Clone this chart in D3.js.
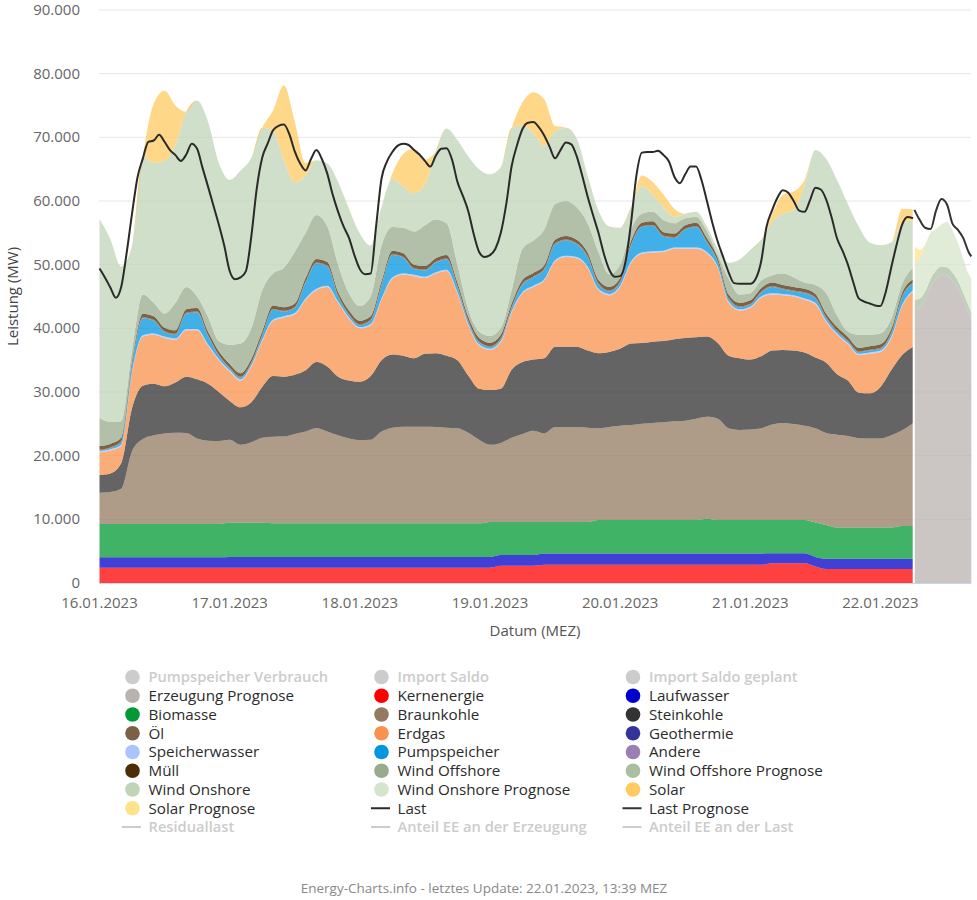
<!DOCTYPE html>
<html><head><meta charset="utf-8">
<script src="https://cdn.jsdelivr.net/npm/d3@7"></script>
<style>
body{margin:0;background:#fff;}
svg{display:block;font-family:"Open Sans",sans-serif;}
</style></head><body>
<svg id="chart" width="977" height="900"></svg>
<script>
// ---- categories: hours since 16.01.2023 00:00 ----
const hours = d3.range(0, 151, 2);      // generation series, 2-hour steps
const lastHours = d3.range(0, 151, 1);  // load series, hourly
const dayLabels = ["16.01.2023","17.01.2023","18.01.2023","19.01.2023","20.01.2023","21.01.2023","22.01.2023"];
const yTicks = [0,10000,20000,30000,40000,50000,60000,70000,80000,90000];

// ---- series values (MW) ----
const kernenergie = [
2400,2400,2400,2400,2400,2400,2400,2400,2400,2400,2400,2400,
2400,2400,2400,2400,2400,2400,2400,2400,2400,2400,2400,2400,
2400,2400,2400,2400,2400,2400,2400,2400,2400,2400,2400,2400,
2400,2700,2700,2700,2700,2850,2850,2850,2850,2850,2850,2850,
2850,2850,2850,2850,2850,2850,2850,2850,2850,2850,2850,2850,
2850,2850,3100,3100,3100,3100,2600,2200,2200,2200,2200,2200,
2200,2200,2200,2200];
const laufwasser = [
1630,1630,1630,1630,1630,1630,1630,1630,1630,1630,1630,1630,
1700,1700,1700,1700,1700,1700,1700,1700,1700,1700,1700,1700,
1700,1700,1700,1700,1700,1700,1700,1700,1700,1700,1700,1700,
1700,1700,1700,1700,1700,1800,1800,1800,1800,1800,1800,1800,
1800,1800,1800,1800,1800,1800,1800,1800,1800,1800,1800,1800,
1800,1800,1560,1560,1560,1560,1500,1600,1600,1600,1600,1600,
1600,1600,1600,1600];
const biomasse = [
5240,5240,5240,5240,5240,5240,5240,5240,5240,5240,5240,5240,
5350,5350,5350,5350,5270,5270,5270,5270,5270,5270,5270,5270,
5270,5270,5270,5270,5270,5270,5270,5270,5270,5270,5270,5270,
5500,5200,5200,5200,5200,4950,4950,4950,4950,4950,5250,5250,
5250,5250,5250,5250,5250,5250,5250,5250,5450,5250,5250,5250,
5250,5250,5240,5240,5240,5240,5400,5300,4900,4900,4900,4900,
4900,4900,5150,5150];
const braunkohle = [
4920,5030,5530,11430,13330,13930,14230,14330,14280,13430,13080,13030,
13050,12250,12650,13350,13610,13630,14030,14430,14930,14430,13830,13330,
13080,13130,14430,15030,15180,15180,15180,15130,15030,14930,14230,13130,
12100,12400,13200,13800,14300,13900,14900,14900,14900,14800,14400,14600,
14800,14900,15100,15250,15350,15500,15600,15900,16000,15900,14400,14130,
14200,14400,15000,15250,15060,14800,14800,14450,14600,14400,14050,14000,
14000,14500,15050,16150];
const steinkohle = [
2770,2900,4000,6800,8400,8100,7400,7900,8850,9300,8950,7700,
6100,5900,6300,8000,9520,9400,9300,9600,10400,10200,9200,9100,
9150,10000,11200,11500,11150,10750,11450,11600,11300,10700,9000,8000,
8600,8500,10700,11300,11200,11800,12600,12600,12600,12100,11800,11800,
12100,12800,12700,12750,12750,12900,13000,12800,12600,11900,11400,11270,
11000,11300,11600,11450,11540,11500,11100,11050,9500,8700,7150,7100,
8100,10250,11810,12010];
const erdgas = [
3540,3600,2700,5500,7700,7700,7600,6700,7300,7700,6000,5000,
4600,4200,5600,7200,8700,9300,9500,11100,11300,12500,11600,9700,
8400,8000,9500,11900,12700,12900,11900,12500,13300,10500,7900,6800,
6300,7300,9000,10800,11400,12200,13400,14100,13900,13000,9900,8900,
9700,12700,14000,14000,14000,14200,14000,13900,13100,11800,8300,7500,
8100,9200,8800,8600,8500,8300,8400,6400,6200,5700,5900,6200,
5500,5050,7690,8690];
const speicherwasser = [
200,200,200,200,200,200,200,200,200,200,200,200,
200,200,200,200,200,200,200,200,200,200,200,200,
200,200,200,200,200,200,200,200,200,200,200,200,
200,200,200,200,200,200,200,200,200,200,200,200,
200,200,200,200,200,200,200,200,200,200,200,200,
200,200,200,200,200,200,200,200,200,200,200,200,
200,200,200,200];
const pumpspeicher = [
100,150,400,1000,2700,2000,700,600,2400,2600,1300,500,
300,250,300,600,1500,700,800,2500,4000,3000,800,400,
300,500,2000,3500,2500,900,1000,1500,1600,800,400,300,
250,300,500,1200,1300,1500,2500,2400,2000,1500,700,400,
500,2500,4000,4000,2200,1500,2800,3200,1500,700,400,300,
300,600,1000,700,600,800,700,400,300,250,250,300,
300,500,1200,1000];
const oel = [
150,150,150,150,150,150,150,150,150,150,150,150,
150,150,150,150,150,150,150,150,150,150,150,150,
150,150,150,150,150,150,150,150,150,150,150,150,
150,150,150,150,150,150,150,150,150,150,150,150,
150,150,150,150,150,150,150,150,150,150,150,150,
150,150,150,150,150,150,150,150,150,150,150,150,
150,150,150,150];
const muell = [
550,550,550,550,550,550,550,550,550,550,550,550,
550,550,550,550,550,550,550,550,550,550,550,550,
550,550,550,550,550,550,550,550,550,550,550,550,
550,550,550,550,550,550,550,550,550,550,550,550,
550,550,550,550,550,550,550,550,550,550,550,550,
550,550,550,550,550,550,550,550,550,550,550,550,
550,550,550,550];
const windOffshore = [
4400,3450,2600,1600,3000,2100,2200,4300,3500,1800,2300,1600,
3000,4650,4800,6500,5000,6200,8100,7100,6900,5600,4300,2700,
2300,3100,5600,3700,4000,5200,6400,6100,5000,2800,1200,1000,
1050,1000,2100,4900,5100,5600,5600,5500,5100,4600,4400,2000,
2100,1800,1400,1500,1900,1600,1100,900,1100,400,2500,1300,
1100,1200,1100,1800,1500,1000,1400,3200,1800,850,2050,1800,
1700,1600,1400,1800];
const windOnshore = [
31300,28700,24300,16500,21700,22000,24000,24800,27500,30800,30700,28000,
25900,27200,26800,25500,22400,16900,10900,9000,8600,9900,13000,13300,
11400,8000,6000,7600,6500,6000,6300,10700,14900,19600,24000,25500,
25400,25300,25500,19300,16800,13100,11400,11500,10800,7500,6500,7500,
5800,3500,4300,2700,2000,1000,700,800,700,1000,2500,5500,
6800,6400,8400,9400,10600,15200,21200,21100,21300,20000,17000,14500,
13900,12000,9500,7500];
const solar = [
0,0,0,0,0,9300,11000,6200,0,0,0,0,
0,0,0,0,3200,11800,9600,2000,0,0,0,0,
0,0,0,800,5100,7000,4000,0,0,0,0,0,
0,0,0,3700,6500,7400,900,0,0,0,0,0,
0,0,1700,2000,2000,1300,0,0,0,0,0,0,
0,0,1200,3000,2900,900,0,0,0,0,0,0,
0,0,2300,1700];
const last = [
49400,48000,46400,44800,46500,51800,58000,63700,66700,69300,69500,70400,
69300,68000,67200,66300,67300,69000,68200,65200,62300,59300,56300,53000,
49000,47700,48000,49000,54500,62000,66800,69000,71100,71800,72000,70500,
67800,65900,64800,66600,68000,66600,64300,61000,58300,56000,54200,51500,
49300,48500,48600,56000,63500,66200,67700,68700,69000,68800,68000,67300,
66300,65400,67100,68200,68300,66500,63000,60800,58400,54800,52000,51200,
51500,52500,55000,59500,65500,68800,71300,72300,72400,71600,70300,68500,
66700,68000,69200,68900,67000,64000,60700,57800,55000,51700,49200,48100,
48200,50500,56500,64000,67600,67700,67700,67900,67200,66200,63800,62800,
64200,65400,65400,63300,60000,56600,53600,51200,48800,47100,47000,47000,
47000,47800,50500,56000,58500,60500,61700,61300,60000,58500,58300,60100,
62100,61800,60200,57400,54100,52200,50000,47200,44700,44200,43900,43600,
43500,45800,49600,53200,56300,57500,57300];

// ---- forecast (hours since start) ----
const forecastHours = [150.25,151.25,152.25,153.25,154.25,155.25,156.25,157.25,158.25,159.25,160.25,160.75];
const erzeugungPrognose = [43000,43300,44500,46500,47800,48400,48300,47500,46300,44500,42500,41500];
const windOffshorePrognose = [1500,1400,1300,1300,1300,1300,1300,1300,1200,1100,1000,1000];
const windOnshorePrognose = [5700,6300,7200,7200,6500,6600,7100,6700,6000,5400,5000,5400];
const solarPrognose = [2800,1300,200,0,0,0,0,0,0,0,0,0];
const lastPrognose = [58600,57000,55800,55600,58500,60300,59500,56500,55500,54200,52000,51300];

// ---- styling ----
const colors = {
  kernenergie:"#ff0000", laufwasser:"#0000c8", biomasse:"#009933", braunkohle:"#937b61",
  steinkohle:"#303030", erdgas:"#f8924c", speicherwasser:"#a9c4ff", pumpspeicher:"#0395e0",
  oel:"#7b5f47", muell:"#4d2d09", windOffshore:"#98ab8d", windOnshore:"#c0d4b8", solar:"#ffca62",
  erzeugungPrognose:"#b9b3af", windOffshorePrognose:"#aabfa2", windOnshorePrognose:"#d5e5cb",
  solarPrognose:"#ffe38a", geothermie:"#333399", andere:"#9b7fb4"
};
const series = {kernenergie,laufwasser,biomasse,braunkohle,steinkohle,erdgas,speicherwasser,pumpspeicher,oel,muell,windOffshore,windOnshore,solar};
const stackKeys = Object.keys(series);
const rows = hours.map((h,i)=>{const r={h}; stackKeys.forEach(k=>r[k]=series[k][i]); return r;});
const fSeries = {erzeugungPrognose,windOffshorePrognose,windOnshorePrognose,solarPrognose};
const fKeys = Object.keys(fSeries);
const fRows = forecastHours.map((h,i)=>{const r={h}; fKeys.forEach(k=>r[k]=fSeries[k][i]); return r;});

const svg = d3.select("#chart");
const L = 99.5, R = 971.3, T = 10, B = 583;
const x = d3.scaleLinear().domain([0,160.75]).range([L,R]);
const y = d3.scaleLinear().domain([0,90000]).range([B,T]);
const fmt = d3.formatLocale({decimal:",",thousands:".",grouping:[3],currency:["","€"]}).format(",");
const curve = d3.curveMonotoneX;

// grid
svg.append("g").selectAll("line").data(yTicks.filter(d=>d>0)).join("line")
  .attr("x1",99).attr("x2",R).attr("y1",d=>y(d)).attr("y2",d=>y(d))
  .attr("stroke","#e6e6e6").attr("stroke-width",1);

// y labels
svg.append("g").selectAll("text").data(yTicks).join("text")
  .attr("x",80).attr("y",d=>y(d)+5).attr("text-anchor","end")
  .attr("font-size",15).attr("fill","#666").text(d=>fmt(d));

// stacked areas
const stack = d3.stack().keys(stackKeys);
const area = d3.area().curve(curve).x(d=>x(d.data.h)).y0(d=>y(d[0])).y1(d=>y(d[1]));
svg.append("g").selectAll("path").data(stack(rows)).join("path")
  .attr("d",area).attr("fill",d=>colors[d.key]).attr("fill-opacity",0.75);

const fStack = d3.stack().keys(fKeys);
svg.append("g").selectAll("path").data(fStack(fRows)).join("path")
  .attr("d",area).attr("fill",d=>colors[d.key]).attr("fill-opacity",0.75);

// separator between actual and forecast
svg.append("line").attr("x1",x(150.13)).attr("x2",x(150.13))
  .attr("y1",y(0)).attr("y2",y(60000)).attr("stroke","#fff").attr("stroke-width",2);

// lines
const line = d3.line().curve(curve).x(d=>x(d[0])).y(d=>y(d[1]));
svg.append("path").attr("d",line(lastHours.map((h,i)=>[h,last[i]])))
  .attr("fill","none").attr("stroke","#2a2a2a").attr("stroke-width",2).attr("stroke-linejoin","round");
svg.append("path").attr("d",line(forecastHours.map((h,i)=>[h,lastPrognose[i]])))
  .attr("fill","none").attr("stroke","#333").attr("stroke-width",2).attr("stroke-linejoin","round");

// x axis line & labels
svg.append("line").attr("x1",99).attr("x2",R).attr("y1",B+0.5).attr("y2",B+0.5).attr("stroke","#ccd6eb");
svg.append("g").selectAll("text").data(dayLabels).join("text")
  .attr("x",(d,i)=>x(i*24)).attr("y",608).attr("text-anchor","middle")
  .attr("font-size",15).attr("fill","#666").text(d=>d);

// axis titles
svg.append("text").attr("x",535).attr("y",636).attr("text-anchor","middle")
  .attr("font-size",15).attr("fill","#555").text("Datum (MEZ)");
svg.append("text").attr("transform","translate(17.5,296.5) rotate(-90)").attr("text-anchor","middle")
  .attr("font-size",15).attr("fill","#444").text("Leistung (MW)");

// legend
const legendItems = [
  ["Pumpspeicher Verbrauch","dot",null,true],["Import Saldo","dot",null,true],["Import Saldo geplant","dot",null,true],
  ["Erzeugung Prognose","dot",colors.erzeugungPrognose],["Kernenergie","dot",colors.kernenergie],["Laufwasser","dot","#0000cc"],
  ["Biomasse","dot",colors.biomasse],["Braunkohle","dot",colors.braunkohle],["Steinkohle","dot","#333333"],
  ["Öl","dot",colors.oel],["Erdgas","dot",colors.erdgas],["Geothermie","dot",colors.geothermie],
  ["Speicherwasser","dot",colors.speicherwasser],["Pumpspeicher","dot",colors.pumpspeicher],["Andere","dot",colors.andere],
  ["Müll","dot",colors.muell],["Wind Offshore","dot",colors.windOffshore],["Wind Offshore Prognose","dot",colors.windOffshorePrognose],
  ["Wind Onshore","dot",colors.windOnshore],["Wind Onshore Prognose","dot",colors.windOnshorePrognose],["Solar","dot",colors.solar],
  ["Solar Prognose","dot",colors.solarPrognose],["Last","line","#2a2a2a"],["Last Prognose","line","#333"],
  ["Residuallast","line",null,true],["Anteil EE an der Erzeugung","line",null,true],["Anteil EE an der Last","line",null,true]
];
const colX = [132.5, 381.5, 633], rowY0 = 677, rowH = 18.75;
const lg = svg.append("g").selectAll("g").data(legendItems).join("g")
  .attr("transform",(d,i)=>`translate(${colX[i%3]},${rowY0 + Math.floor(i/3)*rowH})`);
lg.each(function(d){
  const g = d3.select(this);
  const c = d[3] ? "#cccccc" : d[2];
  if(d[1]==="dot") g.append("circle").attr("r",7.3).attr("fill",c);
  else g.append("line").attr("x1",-10.5).attr("x2",8.5).attr("stroke",c).attr("stroke-width",2);
  g.append("text").attr("x",16).attr("y",5.3).attr("font-size",d[3]?14.7:15.2)
   .attr("font-weight",d[3]?600:400).attr("fill",d[3]?"#cccccc":"#2b2b2b").text(d[0]);
});

// footer
svg.append("text").attr("x",484).attr("y",893).attr("text-anchor","middle")
  .attr("font-size",13.5).attr("fill","#888").text("Energy-Charts.info - letztes Update: 22.01.2023, 13:39 MEZ");
</script>
</body></html>
